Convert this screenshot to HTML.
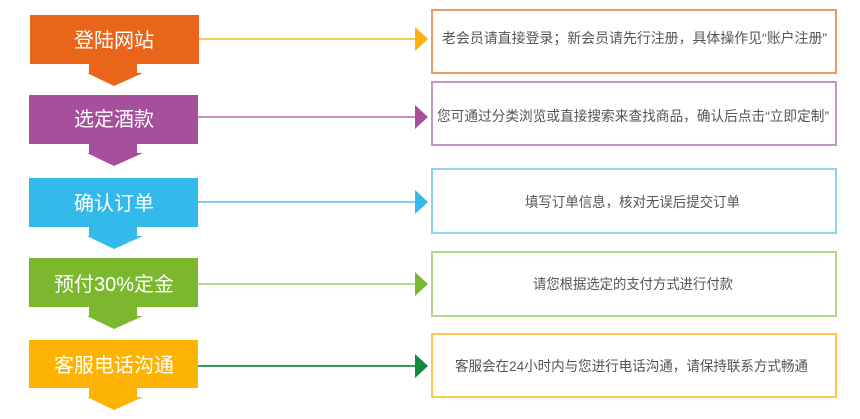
<!DOCTYPE html>
<html><head><meta charset="utf-8"><style>
body{margin:0;background:#fff;}
svg text{font-family:"Liberation Sans","Noto Sans CJK SC",sans-serif;}
</style></head><body>
<svg width="860" height="414" xmlns="http://www.w3.org/2000/svg">
<g id="l">
<rect x="30" y="15" width="169" height="49" fill="#e8651a"/>
<polygon points="89,64 137,64 137,73 143,73 114,86 87,73 89,73" fill="#e8651a"/>
<text x="114" y="47" font-size="20" fill="#fff" text-anchor="middle">登陆网站</text>
<line x1="199" y1="39" x2="416" y2="39" stroke="#f9c865" stroke-width="2"/>
<polygon points="415,27 428,39 415,51" fill="#fdb010"/>
<rect x="432" y="10" width="404" height="63" fill="#fff" stroke="#e99a68" stroke-width="2"/>
<text x="442" y="43" font-size="14" fill="#555" textLength="385" lengthAdjust="spacingAndGlyphs">老会员请直接登录；新会员请先行注册，具体操作见“账户注册”</text>

<rect x="29" y="95" width="169" height="49" fill="#a64f9c"/>
<polygon points="89,144 137,144 137,153 143,153 114,166 87,153 89,153" fill="#a64f9c"/>
<text x="114" y="126" font-size="20" fill="#fff" text-anchor="middle">选定酒款</text>
<line x1="198" y1="117" x2="416" y2="117" stroke="#c58dc0" stroke-width="2"/>
<polygon points="415,105 428,117 415,129" fill="#a64f9c"/>
<rect x="432" y="82" width="404" height="63" fill="#fff" stroke="#c596c2" stroke-width="2"/>
<text x="437" y="121" font-size="14" fill="#555" textLength="392" lengthAdjust="spacingAndGlyphs">您可通过分类浏览或直接搜索来查找商品，确认后点击“立即定制”</text>

<rect x="29" y="178" width="169" height="49" fill="#33baea"/>
<polygon points="89,227 137,227 137,236 143,236 114,249 87,236 89,236" fill="#33baea"/>
<text x="114" y="210" font-size="20" fill="#fff" text-anchor="middle">确认订单</text>
<line x1="198" y1="202" x2="416" y2="202" stroke="#7fd0ef" stroke-width="2"/>
<polygon points="415,190 428,202 415,214" fill="#33baea"/>
<rect x="432" y="169" width="404" height="64" fill="#fff" stroke="#8fd3ee" stroke-width="2"/>
<text x="525" y="207" font-size="14" fill="#555" textLength="215" lengthAdjust="spacingAndGlyphs">填写订单信息，核对无误后提交订单</text>

<rect x="29" y="258" width="169" height="49" fill="#7cb82e"/>
<polygon points="89,307 137,307 137,316 143,316 114,329 87,316 89,316" fill="#7cb82e"/>
<text x="114" y="291" font-size="20" fill="#fff" text-anchor="middle">预付30%定金</text>
<line x1="198" y1="284" x2="416" y2="284" stroke="#b5d98c" stroke-width="2"/>
<polygon points="415,272 428,284 415,296" fill="#7cb82e"/>
<rect x="432" y="252" width="404" height="64" fill="#fff" stroke="#b3d68a" stroke-width="2"/>
<text x="533" y="289" font-size="14" fill="#555" textLength="200" lengthAdjust="spacingAndGlyphs">请您根据选定的支付方式进行付款</text>

<rect x="29" y="340" width="169" height="48" fill="#fdb302"/>
<polygon points="89,388 137,388 137,397 143,397 114,410 87,397 89,397" fill="#fdb302"/>
<text x="114" y="372" font-size="20" fill="#fff" text-anchor="middle">客服电话沟通</text>
<line x1="198" y1="366" x2="416" y2="366" stroke="#3a9a5c" stroke-width="2"/>
<polygon points="415,354 428,366 415,378" fill="#138a3c"/>
<rect x="432" y="334" width="404" height="63" fill="#fff" stroke="#fcc94a" stroke-width="2"/>
<text x="455" y="371" font-size="14" fill="#555" textLength="353" lengthAdjust="spacingAndGlyphs">客服会在24小时内与您进行电话沟通，请保持联系方式畅通</text>
</g>
</svg>
</body></html>
